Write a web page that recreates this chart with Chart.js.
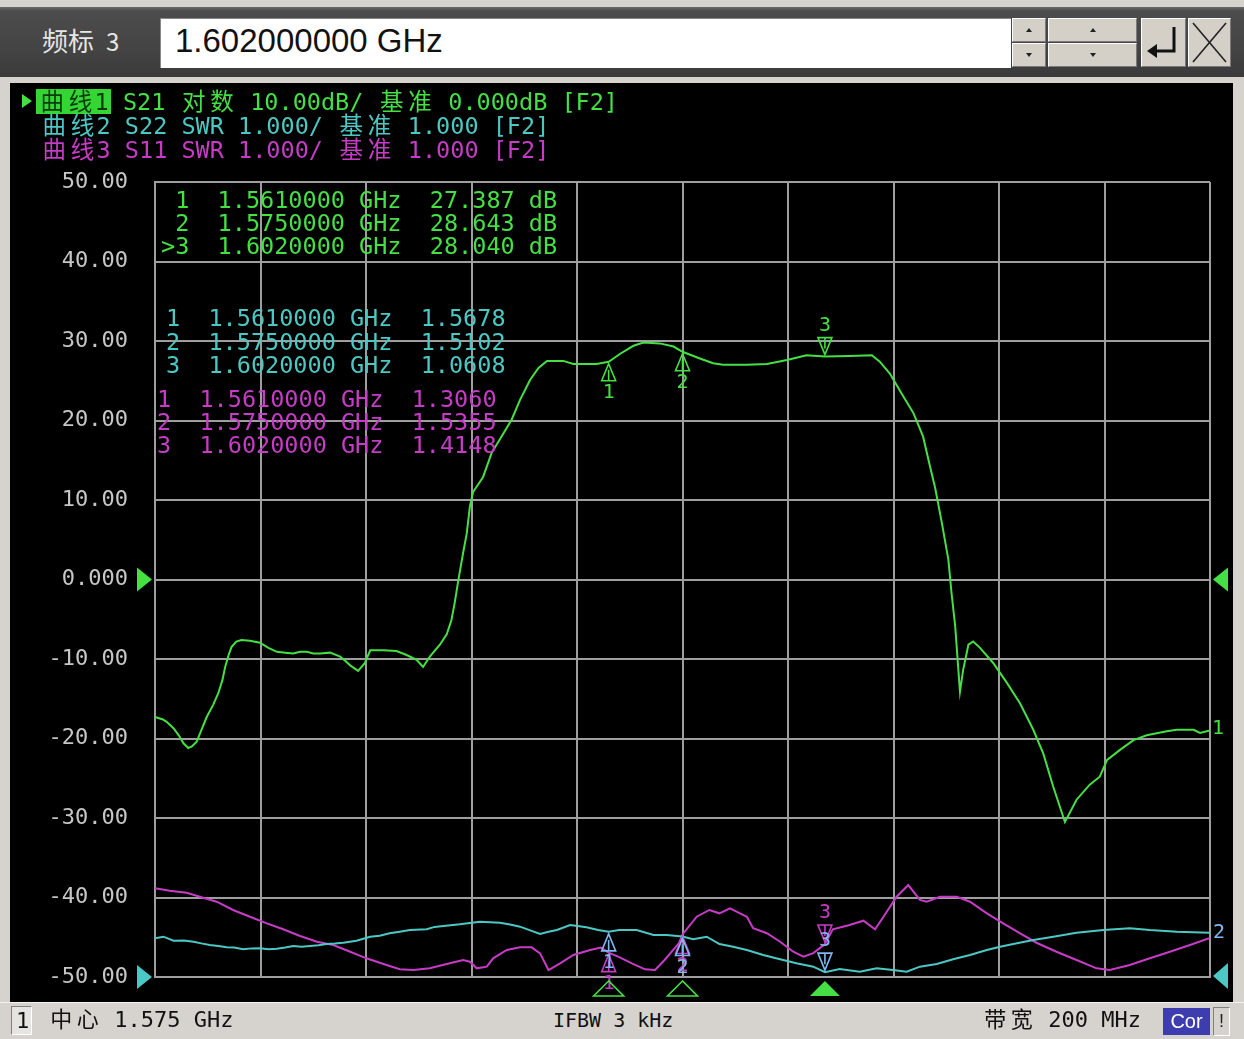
<!DOCTYPE html>
<html>
<head>
<meta charset="utf-8">
<title>S21 / S22 / S11</title>
<script src="https://cdn.jsdelivr.net/npm/chart.js@4.4.1/dist/chart.umd.min.js"></script>
<style>
  html, body { margin: 0; padding: 0; }
  body {
    width: 1244px; height: 1039px; position: relative; overflow: hidden;
    background: #d6d3ce;
    font-family: "DejaVu Sans Mono", monospace;
  }
  .abs { position: absolute; white-space: pre; }
  #topbar {
    position: absolute; left: 0; top: 7px; width: 1244px; height: 70px;
    background: linear-gradient(#6a6a6a 0px, #4c4c4c 4px, #444 60%, #3a3a3a 100%);
  }
  #mkname { left: 42px; top: 21px; font: 26px "Noto Sans CJK SC", sans-serif; color: #e6e6e6; }
  #mkname span { margin-left: 12px; font-size: 24px; }
  #entry {
    position: absolute; left: 160px; top: 18px; width: 850px; height: 49px; background: #fff;
    border-top: 1px solid #888; border-left: 1px solid #888;
  }
  #entryText { left: 175px; top: 22px; font: 33px "Liberation Sans", Arial, sans-serif; color: #111; }
  .btn {
    position: absolute; background: #d4d0c8; box-sizing: border-box;
    border-top: 1px solid #fff; border-left: 1px solid #fff;
    border-bottom: 1px solid #7a7a7a; border-right: 1px solid #7a7a7a;
  }
  .arrow { position: absolute; width: 0; height: 0; border-left: 3px solid transparent; border-right: 3px solid transparent; }
  #panel { position: absolute; left: 10px; top: 83px; width: 1223px; height: 919px; background: #000; }
  #chart { position: absolute; left: 10px; top: 83px; }
  .mono { font-size: 23.5px; line-height: 24px; font-family: "DejaVu Sans Mono", monospace; }
  .cjk { display: inline-block; width: 1.204em; text-align: center; font-family: "Noto Sans CJK SC", sans-serif; font-size: 1em; line-height: 1em; }
  #status { position: absolute; left: 0; top: 1002px; width: 1244px; height: 37px; background: #d6d3ce; border-top: 1px solid #f4f4f4; }
  .st { font-size: 22px; color: #111; font-family: "DejaVu Sans Mono", monospace; }
</style>
</head>
<body>

<div id="topbar"></div>
<div id="mkname" class="abs"></div>
<div id="entry"></div>
<div id="entryText" class="abs"></div>

<!-- spin buttons, enter and close -->
<div class="btn" style="left:1012px;top:18px;width:34px;height:24px;"><div class="arrow" style="left:13px;top:9px;border-bottom:4px solid #222;"></div></div>
<div class="btn" style="left:1012px;top:43px;width:34px;height:24px;"><div class="arrow" style="left:13px;top:9px;border-top:4px solid #222;"></div></div>
<div class="btn" style="left:1048px;top:18px;width:89px;height:24px;"><div class="arrow" style="left:41px;top:9px;border-bottom:4px solid #222;"></div></div>
<div class="btn" style="left:1048px;top:43px;width:89px;height:24px;"><div class="arrow" style="left:41px;top:9px;border-top:4px solid #222;"></div></div>
<div class="btn" style="left:1141px;top:18px;width:45px;height:49px;">
  <svg width="43" height="47" style="position:absolute;left:0;top:0">
    <polyline points="32,8 32,32 12,32" fill="none" stroke="#111" stroke-width="3"/>
    <polygon points="5,32 15,25 15,39" fill="#111"/>
  </svg>
</div>
<div class="btn" style="left:1188px;top:18px;width:43px;height:49px;">
  <svg width="41" height="47" style="position:absolute;left:0;top:0">
    <line x1="4" y1="4" x2="37" y2="43" stroke="#222" stroke-width="1.6"/>
    <line x1="37" y1="4" x2="4" y2="43" stroke="#222" stroke-width="1.6"/>
  </svg>
</div>

<div id="panel"></div>
<canvas id="chart" width="1223" height="919"></canvas>
<div id="overlay"></div>

<div id="status"></div>
<div class="abs" style="left:11px;top:1006px;width:21px;height:29px;box-sizing:border-box;border-top:1px solid #808080;border-left:1px solid #808080;border-bottom:1px solid #fff;border-right:1px solid #fff;background:#e6e4e0;"></div>
<div id="stChan" class="abs st" style="left:16px;top:1008px;">1</div>
<div id="stCenter" class="abs st" style="left:48px;top:1006px;"></div>
<div id="stIfbw" class="abs st" style="left:553px;top:1008px;font-size:20px;"></div>
<div id="stSpan" class="abs st" style="left:982px;top:1006px;"></div>
<div class="abs" style="left:1163px;top:1008px;width:47px;height:27px;background:#3d3db0;color:#fff;font:20px 'Liberation Sans',Arial,sans-serif;text-align:center;line-height:27px;">Cor</div>
<div class="abs" style="left:1213px;top:1007px;width:17px;height:29px;box-sizing:border-box;border-left:1px solid #808080;border-top:1px solid #808080;border-right:1px solid #fff;border-bottom:1px solid #fff;color:#222;font:18px 'Liberation Sans',Arial,sans-serif;text-align:center;line-height:27px;">!</div>

<script>
// ---- sweep setup ----
const CENTER_MHZ = 1575;
const SPAN_MHZ = 200;
const IFBW_KHZ = 3;

// ---- markers (1, 2, 3); marker 3 is the active one ----
const MARKER_FREQ = [1561, 1575, 1602];
const ACTIVE_MARKER = 2;
const S21_MARKER_DB = [27.387, 28.643, 28.040];
const S22_MARKER_SWR = [1.5678, 1.5102, 1.0608];
const S11_MARKER_SWR = [1.3060, 1.5355, 1.4148];

// ---- trace 1: S21, log magnitude (dB) ----
const s21Freq = [1475, 1476.5, 1477.2, 1478.5, 1479.5, 1480.4, 1481.3, 1482.0, 1482.9, 1484.0,
  1484.8, 1486.0, 1487.0, 1487.8, 1488.3, 1489.0, 1489.5, 1490.4, 1491.4, 1493.0,
  1494.9, 1496.5, 1498.1, 1499.7, 1501.2, 1502.5, 1503.8, 1505.0, 1506.3, 1508.2,
  1510.1, 1511.0, 1512.0, 1513.5, 1514.8, 1515.8, 1518.3, 1520.8, 1522.7, 1524.6,
  1525.8, 1527.1, 1529.0, 1530.3, 1531.2, 1531.8, 1532.5, 1533.4, 1534.1, 1534.7,
  1535.3, 1537.2, 1538.8, 1540.7, 1542.6, 1544.2, 1546.1, 1547.7, 1549.3, 1552.4,
  1554.3, 1558.7, 1561, 1563.2, 1565.7, 1567.6, 1570.7, 1573.3, 1575, 1578.3,
  1580.8, 1582.7, 1587.2, 1591.0, 1594.8, 1598.5, 1602, 1606.8, 1610.9, 1612.4,
  1614.3, 1616.9, 1618.8, 1620.6, 1622.0, 1622.9, 1624.2, 1625.4, 1626.0, 1626.7,
  1627.3, 1627.6, 1628.2, 1629.2, 1630.1, 1631.4, 1633.9, 1636.5, 1639.0, 1641.5,
  1643.4, 1645.3, 1647.5, 1649.7, 1652.2, 1654.1, 1655.5, 1658.0, 1660.5, 1663.0,
  1666.8, 1668.7, 1671.9, 1673.1, 1675];
const s21Db = [-17.3, -17.6, -17.9, -18.7, -19.6, -20.6, -21.2, -21.0, -20.4, -18.6,
  -17.3, -15.8, -14.3, -12.6, -11.0, -9.4, -8.5, -7.8, -7.6, -7.7,
  -7.95, -8.6, -9.1, -9.2, -9.3, -9.1, -9.1, -9.3, -9.3, -9.2,
  -9.7, -10.2, -10.8, -11.5, -10.5, -8.9, -8.9, -9.0, -9.5, -10.1,
  -11.0, -9.7, -8.2, -6.9, -5.1, -3.0, -0.1, 3.3, 5.8, 9.2,
  11.0, 12.9, 15.9, 18.0, 20.1, 22.6, 25.1, 26.6, 27.5, 27.5,
  27.1, 27.1, 27.387, 28.4, 29.4, 29.8, 29.7, 29.3, 28.643, 27.8,
  27.2, 27.0, 27.0, 27.1, 27.6, 28.2, 28.040, 28.1, 28.2, 27.4,
  25.9, 23.0, 20.9, 18.0, 14.0, 11.5, 7.0, 2.5, -1.7, -5.9,
  -11.4, -14.1, -11.4, -8.2, -7.8, -8.6, -10.5, -13.0, -15.6, -18.9,
  -21.9, -26.1, -30.5, -27.7, -25.8, -24.8, -22.7, -21.4, -20.2, -19.6,
  -19.1, -18.9, -18.9, -19.3, -19.0];

// ---- trace 2: S22, SWR ----
const s22Freq = [1475, 1476.6, 1478.5, 1480.5, 1482.3, 1484.0, 1485.4, 1487.0, 1488.6, 1490.0,
  1491.7, 1493.3, 1494.9, 1496.5, 1498.1, 1499.7, 1501.2, 1502.8, 1504.4, 1506.0,
  1507.5, 1509.1, 1510.7, 1513.2, 1515.8, 1517.6, 1519.5, 1521.4, 1523.3, 1526.5,
  1528.0, 1529.7, 1532.8, 1534.7, 1536.6, 1540.4, 1542.3, 1544.2, 1546.0, 1548.0,
  1549.6, 1551.2, 1553.7, 1556.8, 1559.0, 1561, 1563.0, 1566.3, 1569.5, 1572.0,
  1575, 1577.0, 1579.6, 1582.0, 1584.6, 1587.2, 1590.3, 1593.5, 1596.6, 1599.8,
  1602, 1604.8, 1608.6, 1611.8, 1614.9, 1617.5, 1620.0, 1623.2, 1626.3, 1629.5,
  1632.7, 1635.2, 1638.4, 1641.5, 1645.3, 1649.7, 1654.8, 1659.8, 1663.6, 1668.7,
  1675];
const s22Swr = [1.487, 1.507, 1.457, 1.460, 1.444, 1.420, 1.403, 1.390, 1.373, 1.370,
  1.348, 1.360, 1.361, 1.350, 1.356, 1.370, 1.390, 1.380, 1.390, 1.400,
  1.415, 1.420, 1.431, 1.457, 1.507, 1.520, 1.550, 1.570, 1.591, 1.600,
  1.630, 1.642, 1.663, 1.680, 1.696, 1.683, 1.660, 1.633, 1.590, 1.541,
  1.570, 1.591, 1.654, 1.625, 1.590, 1.5678, 1.591, 1.591, 1.528, 1.528,
  1.5102, 1.474, 1.507, 1.415, 1.381, 1.340, 1.277, 1.223, 1.172, 1.130,
  1.0608, 1.100, 1.067, 1.109, 1.088, 1.067, 1.130, 1.164, 1.223, 1.277,
  1.340, 1.381, 1.424, 1.465, 1.507, 1.557, 1.591, 1.613, 1.591, 1.570,
  1.557];

// ---- trace 3: S11, SWR ----
const s11Freq = [1475, 1477.8, 1481.0, 1483.5, 1486.7, 1489.8, 1493.0, 1496.2, 1499.3, 1502.5,
  1505.7, 1508.8, 1512.0, 1515.1, 1518.3, 1521.4, 1524.0, 1527.1, 1530.3, 1533.4,
  1534.7, 1536.0, 1537.9, 1539.1, 1541.7, 1544.2, 1546.4, 1548.0, 1549.6, 1551.8,
  1554.3, 1557.5, 1559.5, 1561, 1563.0, 1565.4, 1567.9, 1569.8, 1571.6, 1574.3,
  1575, 1577.7, 1580.1, 1582.0, 1584.0, 1585.9, 1587.2, 1588.4, 1591.0, 1593.5,
  1596.0, 1597.9, 1599.8, 1602, 1603.5, 1606.5, 1609.3, 1611.5, 1613.1, 1615.6,
  1617.8, 1620.0, 1621.3, 1623.8, 1627.0, 1629.5, 1632.7, 1635.8, 1639.0, 1642.1,
  1645.9, 1649.7, 1653.5, 1656.0, 1659.8, 1663.6, 1667.4, 1671.2, 1675];
const s11Swr = [2.116, 2.086, 2.060, 2.010, 1.947, 1.843, 1.758, 1.675, 1.600, 1.516,
  1.444, 1.403, 1.318, 1.235, 1.164, 1.097, 1.088, 1.109, 1.164, 1.214,
  1.192, 1.109, 1.130, 1.235, 1.340, 1.373, 1.373, 1.298, 1.088, 1.172,
  1.277, 1.340, 1.370, 1.3060, 1.250, 1.172, 1.097, 1.088, 1.214, 1.424,
  1.5355, 1.758, 1.843, 1.801, 1.864, 1.801, 1.758, 1.613, 1.550, 1.444,
  1.318, 1.255, 1.300, 1.4148, 1.600, 1.650, 1.708, 1.600, 1.758, 2.010,
  2.157, 1.969, 1.947, 2.010, 2.010, 1.947, 1.801, 1.675, 1.550, 1.431,
  1.318, 1.214, 1.109, 1.088, 1.151, 1.235, 1.318, 1.403, 1.490];

// ---- colours ----
const GREEN = '#44e044';
const CYAN = '#4cc8c4';
const MAGENTA = '#c63cc6';
const MARK_BLUE = '#7fb8f0';
const GRID = '#9e9e9e';

const toPoints = (fs, vs) => fs.map((f, i) => ({ x: f, y: vs[i] }));
const ghz = (mhz, d) => (mhz / 1000).toFixed(d);

// ---- text helpers: monospaced cells, CJK characters take two cells ----
function cells(str) {
  return Array.from(str).map(ch =>
    /[\u2e80-\u9fff]/.test(ch) ? '<span class="cjk">' + ch + '</span>' : ch
  ).join('');
}
function addText(html, left, top, color, extra) {
  const d = document.createElement('div');
  d.className = 'abs mono';
  d.style.left = left + 'px';
  d.style.top = top + 'px';
  d.style.color = color;
  if (extra) Object.assign(d.style, extra);
  d.innerHTML = html;
  document.getElementById('overlay').appendChild(d);
  return d;
}

// title bar
document.getElementById('mkname').innerHTML = '频标<span>' + (ACTIVE_MARKER + 1) + '</span>';
document.getElementById('entryText').textContent = ghz(MARKER_FREQ[ACTIVE_MARKER], 9) + ' GHz';

// trace headers
addText('', 22, 94, GREEN, { width: '0', height: '0', borderTop: '7px solid transparent', borderBottom: '7px solid transparent', borderLeft: '10px solid ' + GREEN });
addText(cells('曲线1'), 36, 89, '#0b3a0b', { background: '#33d633', padding: '0 2px' });
addText(cells('S21 对数 10.00dB/ 基准 0.000dB [F2]'), 38 + 6 * 14.15, 89, GREEN);
addText(cells('曲线2 S22 SWR 1.000/ 基准 1.000 [F2]'), 40, 113, CYAN);
addText(cells('曲线3 S11 SWR 1.000/ 基准 1.000 [F2]'), 40, 137, MAGENTA);

// marker readouts
MARKER_FREQ.forEach((f, i) => {
  const tag = (i === ACTIVE_MARKER ? '>' : ' ') + (i + 1);
  addText(tag + '  ' + ghz(f, 7) + ' GHz  ' + S21_MARKER_DB[i].toFixed(3) + ' dB', 161, 188 + 23 * i, GREEN);
  addText((i + 1) + '  ' + ghz(f, 7) + ' GHz  ' + S22_MARKER_SWR[i].toFixed(4), 166, 306 + 23.5 * i, CYAN);
  addText((i + 1) + '  ' + ghz(f, 7) + ' GHz  ' + S11_MARKER_SWR[i].toFixed(4), 157, 387 + 23 * i, MAGENTA);
});

// status bar
document.getElementById('stCenter').innerHTML = cells('中心 ' + ghz(CENTER_MHZ, 3) + ' GHz');
document.getElementById('stIfbw').textContent = 'IFBW ' + IFBW_KHZ + ' kHz';
document.getElementById('stSpan').innerHTML = cells('带宽 ' + SPAN_MHZ + ' MHz');

// ---- marker symbols, reference arrows and trace numbers ----
function glyph(ctx, px, py, below, label, color) {
  const d = below ? 1 : -1;
  ctx.save();
  ctx.strokeStyle = color; ctx.fillStyle = color; ctx.lineWidth = 1.6;
  ctx.beginPath();
  ctx.moveTo(px, py + 2 * d);
  ctx.lineTo(px - 7, py + 19 * d);
  ctx.lineTo(px + 7, py + 19 * d);
  ctx.closePath();
  ctx.stroke();
  ctx.beginPath();
  ctx.moveTo(px, py + 8 * d);
  ctx.lineTo(px, py + 19 * d);
  ctx.stroke();
  ctx.font = '20px "DejaVu Sans Mono"';
  ctx.textAlign = 'center'; ctx.textBaseline = 'middle';
  ctx.fillText(label, px, py + 31 * d);
  ctx.restore();
}
function tri(ctx, pts, color, fill) {
  ctx.beginPath();
  ctx.moveTo(pts[0][0], pts[0][1]);
  ctx.lineTo(pts[1][0], pts[1][1]);
  ctx.lineTo(pts[2][0], pts[2][1]);
  ctx.closePath();
  if (fill) { ctx.fillStyle = color; ctx.fill(); }
  else { ctx.strokeStyle = color; ctx.lineWidth = 1.6; ctx.stroke(); }
}

const vnaDecor = {
  id: 'vnaDecor',
  afterDatasetsDraw(chart) {
    const { ctx, chartArea: a } = chart;
    const sx = chart.scales.x, sy = chart.scales.y, sw = chart.scales.swr;

    // reference position arrows
    const y0 = sy.getPixelForValue(0);
    const yr = sw.getPixelForValue(1);
    tri(ctx, [[a.left - 18, y0 - 12], [a.left - 18, y0 + 12], [a.left - 3, y0]], GREEN, true);
    tri(ctx, [[a.right + 18, y0 - 12], [a.right + 18, y0 + 12], [a.right + 3, y0]], GREEN, true);
    tri(ctx, [[a.left - 18, yr - 12], [a.left - 18, yr + 12], [a.left - 3, yr]], CYAN, true);
    tri(ctx, [[a.right + 18, yr - 14], [a.right + 18, yr + 12], [a.right + 3, yr - 1]], CYAN, true);

    // markers on each trace
    MARKER_FREQ.forEach((f, i) => {
      const px = sx.getPixelForValue(f);
      const below = i !== ACTIVE_MARKER;
      glyph(ctx, px, sw.getPixelForValue(S11_MARKER_SWR[i]), below, String(i + 1), MAGENTA);
      glyph(ctx, px, sw.getPixelForValue(S22_MARKER_SWR[i]), below, String(i + 1), MARK_BLUE);
      glyph(ctx, px, sy.getPixelForValue(S21_MARKER_DB[i]), below, String(i + 1), GREEN);
      // marker position flags under the grid
      tri(ctx, [[px, a.bottom + 4], [px - 15, a.bottom + 19], [px + 15, a.bottom + 19]], GREEN, i === ACTIVE_MARKER);
    });

    // trace numbers at the right edge
    ctx.save();
    ctx.font = '20px "DejaVu Sans Mono"';
    ctx.textAlign = 'left'; ctx.textBaseline = 'middle';
    ctx.fillStyle = GREEN;
    ctx.fillText('1', a.right + 2, sy.getPixelForValue(s21Db[s21Db.length - 1]) - 2);
    ctx.fillStyle = MARK_BLUE;
    ctx.fillText('2', a.right + 3, sw.getPixelForValue(s22Swr[s22Swr.length - 1]));
    ctx.restore();
  }
};

const line = (label, pts, color, axis) => ({
  label, data: pts, yAxisID: axis, borderColor: color, borderWidth: 2,
  pointRadius: 0, tension: 0, fill: false
});

new Chart(document.getElementById('chart'), {
  type: 'line',
  data: {
    datasets: [
      line('S21', toPoints(s21Freq, s21Db), GREEN, 'y'),
      line('S22', toPoints(s22Freq, s22Swr), CYAN, 'swr'),
      line('S11', toPoints(s11Freq, s11Swr), MAGENTA, 'swr')
    ]
  },
  options: {
    responsive: false,
    animation: false,
    devicePixelRatio: 1,
    layout: { padding: { left: 0, top: 99, right: 23, bottom: 0 } },
    plugins: { legend: { display: false }, tooltip: { enabled: false } },
    scales: {
      x: {
        type: 'linear',
        min: CENTER_MHZ - SPAN_MHZ / 2,
        max: CENTER_MHZ + SPAN_MHZ / 2,
        ticks: { display: false, stepSize: SPAN_MHZ / 10 },
        grid: { color: GRID, lineWidth: 2, drawTicks: false },
        border: { color: GRID, width: 2 },
        afterFit(s) { s.height = 25; s.paddingLeft = 0; s.paddingRight = 0; }
      },
      y: {
        min: -50, max: 50,
        ticks: {
          stepSize: 10, padding: 27, color: '#c6c6c6',
          font: { family: 'DejaVu Sans Mono', size: 22 },
          callback: v => (v === 0 ? '0.000' : v.toFixed(2))
        },
        grid: { color: GRID, lineWidth: 2, drawTicks: false },
        border: { color: GRID, width: 2 },
        afterFit(s) { s.width = 145; s.paddingTop = 0; s.paddingBottom = 0; }
      },
      swr: { min: 1, max: 11, display: false }
    }
  },
  plugins: [vnaDecor]
});
</script>
</body>
</html>
